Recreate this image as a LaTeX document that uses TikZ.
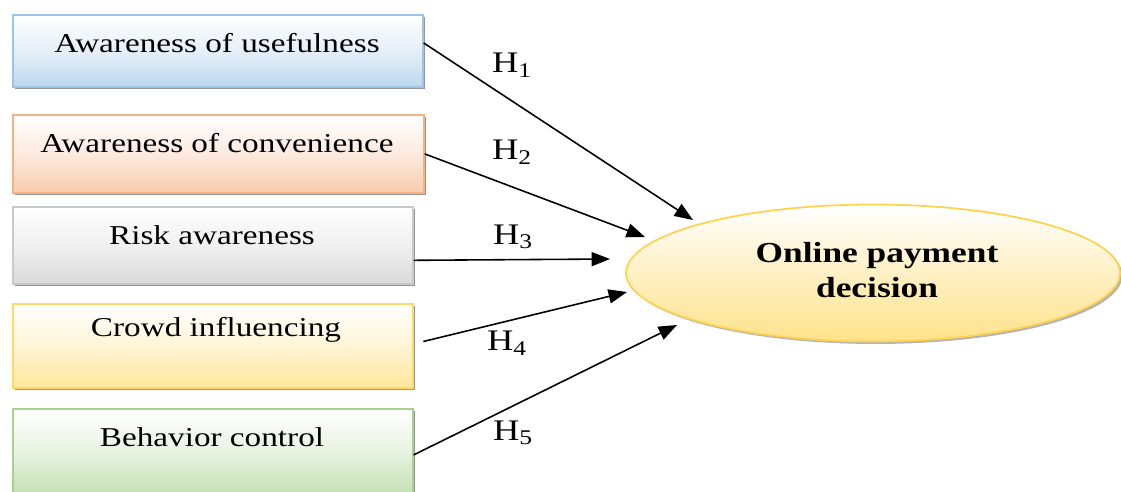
\documentclass[tikz,border=0pt]{standalone}
\usepackage{fontspec}
\setmainfont{Liberation Serif}[FakeStretch=1.22]
\usetikzlibrary{arrows.meta,shadows,shapes.geometric}
\definecolor{b1fill}{HTML}{BDD7EE}\definecolor{b1line}{HTML}{9DC3E6}
\definecolor{b2fill}{HTML}{F8CBAD}\definecolor{b2line}{HTML}{F4B183}
\definecolor{b3fill}{HTML}{D9D9D9}\definecolor{b3line}{HTML}{C9C9C9}
\definecolor{b4fill}{HTML}{FFE699}\definecolor{b4line}{HTML}{FFD966}
\definecolor{b5fill}{HTML}{C5E0B4}\definecolor{b5line}{HTML}{A9D18E}
\definecolor{elfill}{HTML}{FFE28A}\definecolor{elline}{HTML}{FFD34D}
\tikzset{
  boxbase/.style={draw, line width=1pt, rectangle, anchor=north west, inner sep=0pt,
    drop shadow={shadow xshift=1.4pt, shadow yshift=-1.4pt, fill=black!55, opacity=0.75}},
  cbox/.style 2 args={boxbase, draw=#2, top color=white, bottom color=#1, middle color=#1!40!white},
  boxtxt/.style={font=\fontsize{15.5}{18}\selectfont, inner sep=0pt},
  hlab/.style={font=\fontsize{17}{20}\selectfont, inner sep=0pt},
  conn/.style={line width=0.9pt, -{Triangle[length=10.5pt,width=8pt]}},
}
\begin{document}
\begin{tikzpicture}[x=0.02cm,y=-0.02cm]
\useasboundingbox (0,0) rectangle (1121,491);
% boxes
\node[cbox={b1fill}{b1line}, minimum width=8.2cm, minimum height=1.44cm] (b1) at (12,14) {};
\node[cbox={b2fill}{b2line}, minimum width=8.22cm, minimum height=1.56cm] (b2) at (12,114) {};
\node[cbox={b3fill}{b3line}, minimum width=8.0cm, minimum height=1.54cm] (b3) at (12,206) {};
\node[cbox={b4fill}{b4line}, minimum width=8.0cm, minimum height=1.68cm] (b4) at (12,303) {};
\node[cbox={b5fill}{b5line}, minimum width=8.0cm, minimum height=1.7cm] (b5) at (12,408) {};
\node[boxtxt] (t1) at (217,43) {Awareness of usefulness};
\node[boxtxt] (t2) at (217,143) {Awareness of convenience};
\node[boxtxt] (t3) at (212,235) {Risk awareness};
\node[boxtxt] (t4) at (216,330) {Crowd influencing};
\node[boxtxt] (t5) at (212,437) {Behavior control};
% ellipse
\node[ellipse, draw=elline, line width=1pt, top color=white, bottom color=elfill,
  minimum width=9.88cm, minimum height=2.74cm, inner sep=0pt,
  drop shadow={shadow xshift=1.4pt, shadow yshift=-1.4pt, fill=black!45, opacity=0.65}] (el) at (873,273) {};
\node[font=\fontsize{16.5}{20.4}\selectfont\bfseries, align=center, inner sep=0pt] (et) at (877,270) {Online payment\\decision};
% arrow targets
\coordinate (e1) at (693,220);
\coordinate (e2) at (645,237);
\coordinate (e3) at (610,259);
\coordinate (e4) at (627,292);
\coordinate (e5) at (677,325);
\draw[conn] ([yshift=4.5pt]b1.east) -- (e1);
\draw[conn] (b2.east) -- (e2);
\draw[conn] ([yshift=-8.5pt]b3.east) -- (e3);
\draw[conn] ([xshift=5.5pt, yshift=2.5pt]b4.east) -- (e4);
\draw[conn] ([yshift=-2pt]b5.east) -- (e5);
% labels
\node[hlab] (h1) at (512,65) {H\textsubscript{1}};
\node[hlab] (h2) at (512,152) {H\textsubscript{2}};
\node[hlab] (h3) at (513,237) {H\textsubscript{3}};
\node[hlab] (h4) at (507,343) {H\textsubscript{4}};
\node[hlab] (h5) at (513,433) {H\textsubscript{5}};
\end{tikzpicture}
\end{document}
